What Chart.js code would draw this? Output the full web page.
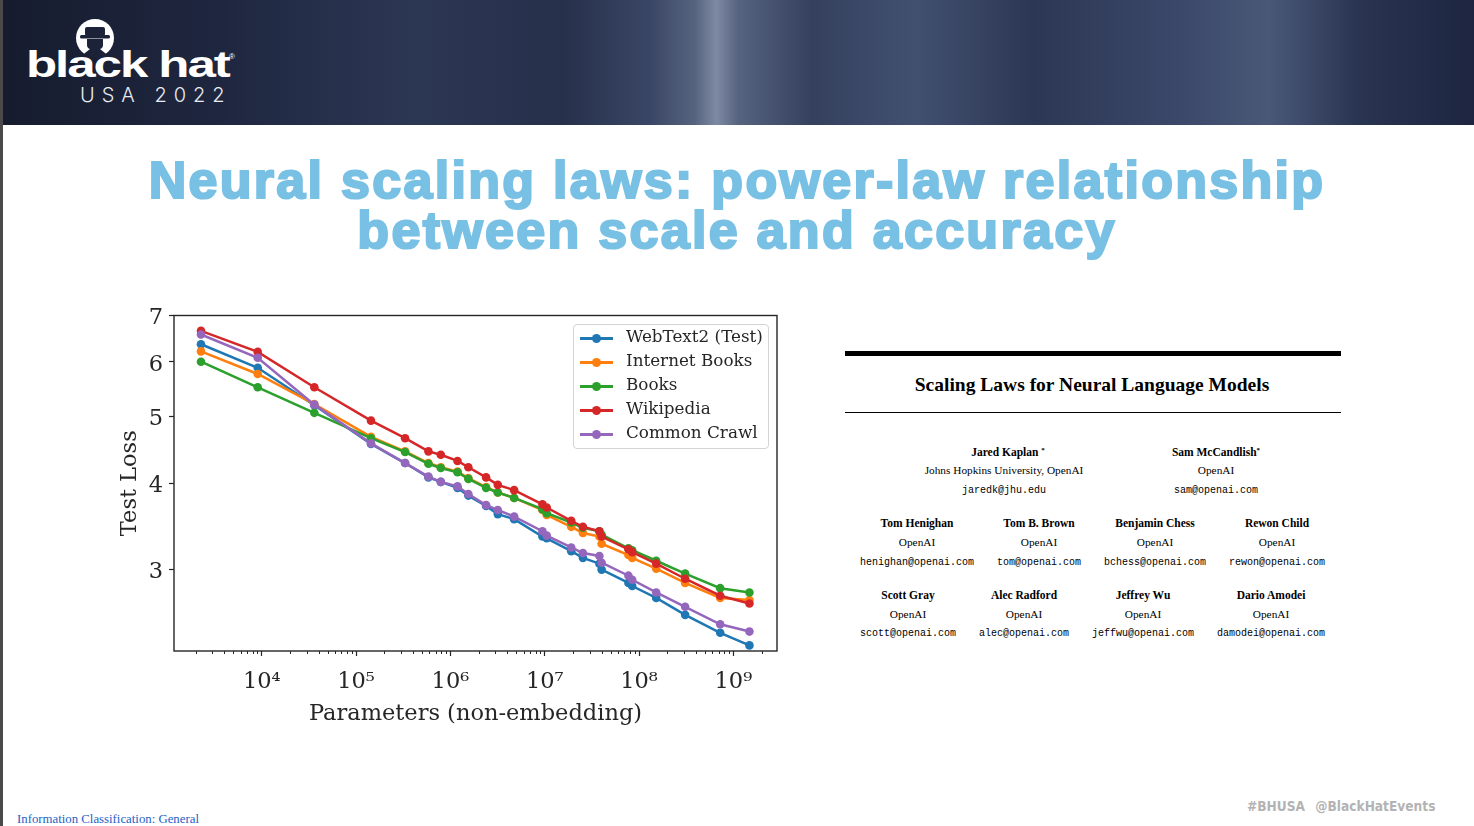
<!DOCTYPE html>
<html lang="en">
<head>
    <meta charset="UTF-8">
    <title>Neural scaling laws</title>
    <script src="https://cdn.jsdelivr.net/npm/chart.js"></script>
    <style>
        html, body { margin: 0; padding: 0; }
        body { width: 1474px; height: 826px; position: relative; overflow: hidden; background: #fff; }
        .edge { position: absolute; left: 0; top: 0; width: 3px; height: 826px; background: #4a4a4a; }
        .banner {
            position: absolute; left: 3px; top: 0; width: 1471px; height: 125px;
            background: linear-gradient(90deg, #161c2e 0%, #1f2740 15%, #2c3754 28%, #26304b 38%, #3a4665 44%,
                #56637f 47%, #7e8aa3 48.5%, #56637f 50%, #34405e 55%, #425070 62%, #2c3754 70%,
                #3b4869 80%, #4a5878 86%, #2a3552 92%, #1d2540 100%);
        }
        .logo-word {
            position: absolute; left: 26px; top: 44px; color: #fff; font-family: "Liberation Sans", Arial, sans-serif;
            font-weight: 900; font-size: 37px; letter-spacing: -1.5px; transform: scaleX(1.38); transform-origin: left top;
        }
        .logo-sub {
            position: absolute; left: 80px; top: 83px; color: #e8ebf2; font-family: Inter, "Open Sans", sans-serif;
            font-weight: 300; font-size: 20px; letter-spacing: 7px;
        }
        .reg { position: absolute; left: 229px; top: 52px; color: #fff; font: 8px "Liberation Sans", sans-serif; }
        .title {
            position: absolute; left: 0; top: 155px; width: 1474px; text-align: center; color: #78c0e4;
            font-family: "Liberation Sans", Arial, sans-serif; font-weight: bold; font-size: 52px; line-height: 50px;
            letter-spacing: 2.3px; -webkit-text-stroke: 2.2px #78c0e4;
        }
        #chartBox { position: absolute; left: 100px; top: 296px; width: 690px; height: 444px; }
        #legend {
            position: absolute; left: 573px; top: 324px; width: 196px; height: 125px; box-sizing: border-box;
            border: 1px solid #d4d4d4; border-radius: 4px; background: rgba(255,255,255,0.85); padding-top: 1px;
        }
        .lg-row { position: relative; height: 24px; }
        .lg-line { position: absolute; left: 6px; top: 11px; width: 33px; height: 2.5px; }
        .lg-dot { position: absolute; left: 12px; top: -3.5px; width: 9px; height: 9px; border-radius: 50%; }
        .lg-text { position: absolute; left: 52px; top: 0px; font-family: "DejaVu Serif", serif; font-size: 16.8px; color: #262626; white-space: nowrap; }
        .paper .t { position: absolute; transform: translate(-50%, -50%); white-space: nowrap; color: #000; }
        .nm { font: bold 11.5px "Liberation Serif", "Times New Roman", serif; }
        .af { font: 11.3px "Liberation Serif", "Times New Roman", serif; }
        .em { font: 10px "Liberation Mono", "Courier New", monospace; }
        .nm sup { font-size: 7px; vertical-align: 4px; }
        .footer-l { position: absolute; left: 17px; top: 812px; font: 12.8px "Liberation Serif", serif; color: #2462c6; }
        .footer-r { position: absolute; left: 1247px; top: 798px; font: bold 13.6px "DejaVu Sans Condensed", "DejaVu Sans", sans-serif; color: #b3b3b3; word-spacing: 6px; }
    </style>
</head>
<body>
    <div class="edge"></div>
    <div class="banner"></div>

    <!-- black hat logo -->
    <svg style="position:absolute;left:70px;top:18px" width="50" height="42" viewBox="0 0 50 42">
        <circle cx="25" cy="20" r="19" fill="#fff"/>
        <rect x="15" y="9" width="20" height="9" rx="2" fill="#1c2338"/>
        <rect x="10" y="17" width="30" height="3.5" rx="1.5" fill="#1c2338"/>
        <path d="M17 21 h16 v6 q0 3 -3 4 l10 8 h-30 l10 -8 q-3 -1 -3 -4 z" fill="#1c2338"/>
    </svg>
    <div class="logo-word">black hat</div>
    <div class="reg">&reg;</div>
    <div class="logo-sub">USA 2022</div>

    <div class="title">Neural scaling laws: power-law relationship<br>between scale and accuracy</div>

    <div id="chartBox"><canvas id="lossChart" width="690" height="444"></canvas></div>
    <div id="legend"></div>

    <!-- paper header -->
    <div class="paper">
        <div style="position:absolute;left:845px;top:351px;width:496px;height:4.5px;background:#000"></div>
        <div class="t" style="left:1092px;top:385px;font:bold 19.5px 'Liberation Serif','Times New Roman',serif">Scaling Laws for Neural Language Models</div>
        <div style="position:absolute;left:845px;top:412px;width:496px;height:1.3px;background:#000"></div>

        <div class="t nm" style="left:1008px;top:452px">Jared Kaplan <sup>*</sup></div>
        <div class="t af" style="left:1004px;top:470px">Johns Hopkins University, OpenAI</div>
        <div class="t em" style="left:1004px;top:490px">jaredk@jhu.edu</div>
        <div class="t nm" style="left:1216px;top:452px">Sam McCandlish<sup>*</sup></div>
        <div class="t af" style="left:1216px;top:470px">OpenAI</div>
        <div class="t em" style="left:1216px;top:490px">sam@openai.com</div>

        <div class="t nm" style="left:917px;top:523px">Tom Henighan</div>
        <div class="t af" style="left:917px;top:542px">OpenAI</div>
        <div class="t em" style="left:917px;top:562px">henighan@openai.com</div>
        <div class="t nm" style="left:1039px;top:523px">Tom B. Brown</div>
        <div class="t af" style="left:1039px;top:542px">OpenAI</div>
        <div class="t em" style="left:1039px;top:562px">tom@openai.com</div>
        <div class="t nm" style="left:1155px;top:523px">Benjamin Chess</div>
        <div class="t af" style="left:1155px;top:542px">OpenAI</div>
        <div class="t em" style="left:1155px;top:562px">bchess@openai.com</div>
        <div class="t nm" style="left:1277px;top:523px">Rewon Child</div>
        <div class="t af" style="left:1277px;top:542px">OpenAI</div>
        <div class="t em" style="left:1277px;top:562px">rewon@openai.com</div>

        <div class="t nm" style="left:908px;top:595px">Scott Gray</div>
        <div class="t af" style="left:908px;top:614px">OpenAI</div>
        <div class="t em" style="left:908px;top:633px">scott@openai.com</div>
        <div class="t nm" style="left:1024px;top:595px">Alec Radford</div>
        <div class="t af" style="left:1024px;top:614px">OpenAI</div>
        <div class="t em" style="left:1024px;top:633px">alec@openai.com</div>
        <div class="t nm" style="left:1143px;top:595px">Jeffrey Wu</div>
        <div class="t af" style="left:1143px;top:614px">OpenAI</div>
        <div class="t em" style="left:1143px;top:633px">jeffwu@openai.com</div>
        <div class="t nm" style="left:1271px;top:595px">Dario Amodei</div>
        <div class="t af" style="left:1271px;top:614px">OpenAI</div>
        <div class="t em" style="left:1271px;top:633px">damodei@openai.com</div>
    </div>

    <div class="footer-l">Information Classification: General</div>
    <div class="footer-r">#BHUSA @BlackHatEvents</div>

    <script>
        // model sizes (non-embedding params)
        const paramCounts = [2270, 9070, 36100, 1.44e5, 3.31e5, 5.85e5, 7.91e5, 1.19e6, 1.55e6, 2.39e6, 3.18e6, 4.74e6,
            9.46e6, 1.05e7, 1.91e7, 2.54e7, 3.80e7, 4.01e7, 7.72e7, 8.46e7, 1.52e8, 3.08e8, 7.25e8, 1.48e9];

        const webText2 = [6.36, 5.88, 5.19, 4.56, 4.28, 4.08, 4.02, 3.94, 3.84, 3.71, 3.61, 3.55,
            3.35, 3.33, 3.19, 3.12, 3.06, 3.00, 2.87, 2.84, 2.73, 2.58, 2.43, 2.33];
        const internetBooks = [6.21, 5.76, 5.21, 4.67, 4.45, 4.28, 4.22, 4.16, 4.07, 3.95, 3.88, 3.81,
            3.66, 3.60, 3.46, 3.39, 3.35, 3.27, 3.15, 3.12, 3.01, 2.87, 2.73, 2.71];
        const books = [6.00, 5.51, 5.06, 4.65, 4.44, 4.27, 4.21, 4.15, 4.06, 3.94, 3.88, 3.81,
            3.67, 3.62, 3.51, 3.45, 3.41, 3.37, 3.22, 3.20, 3.09, 2.96, 2.82, 2.78];
        const wikipedia = [6.65, 6.20, 5.51, 4.93, 4.65, 4.45, 4.40, 4.31, 4.22, 4.08, 3.98, 3.91,
            3.73, 3.69, 3.53, 3.46, 3.41, 3.35, 3.21, 3.18, 3.06, 2.91, 2.75, 2.68];
        const commonCrawl = [6.57, 6.08, 5.20, 4.57, 4.28, 4.09, 4.02, 3.96, 3.86, 3.72, 3.66, 3.58,
            3.41, 3.36, 3.23, 3.17, 3.14, 3.07, 2.94, 2.90, 2.78, 2.65, 2.50, 2.44];

        const seriesNames = ['WebText2 (Test)', 'Internet Books', 'Books', 'Wikipedia', 'Common Crawl'];
        const seriesData = [webText2, internetBooks, books, wikipedia, commonCrawl];
        const seriesColors = ['#1f77b4', '#ff7f0e', '#2ca02c', '#d62728', '#9467bd'];

        const xMajorTicks = [1e4, 1e5, 1e6, 1e7, 1e8, 1e9];
        const xMinorTicks = [];
        for (let e = 3; e <= 9; e++) {
            for (let m = 2; m <= 9; m++) {
                const v = m * Math.pow(10, e);
                if (v > 1175 && v < 2.9e9) xMinorTicks.push(v);
            }
        }
        const yTicks = [3, 4, 5, 6, 7];

        const sup = { '0': '⁰', '1': '¹', '2': '²', '3': '³', '4': '⁴', '5': '⁵', '6': '⁶', '7': '⁷', '8': '⁸', '9': '⁹' };
        const serif = 'DejaVu Serif';
        const ink = '#262626';

        // frame + minor ticks, matplotlib style
        const framePlugin = {
            id: 'frame',
            afterDraw(chart) {
                const { ctx, chartArea: a, scales } = chart;
                ctx.save();
                ctx.strokeStyle = ink;
                ctx.lineWidth = 1;
                ctx.beginPath();
                xMinorTicks.forEach(v => {
                    const px = Math.round(scales.x.getPixelForValue(v)) + 0.5;
                    ctx.moveTo(px, a.bottom);
                    ctx.lineTo(px, a.bottom + 3);
                });
                ctx.stroke();
                ctx.lineWidth = 1.4;
                ctx.strokeRect(a.left, a.top, a.right - a.left, a.bottom - a.top);
                ctx.restore();
            }
        };

        const chart = new Chart(document.getElementById('lossChart'), {
            type: 'line',
            data: {
                datasets: seriesNames.map((name, i) => ({
                    label: name,
                    data: paramCounts.map((p, j) => ({ x: p, y: seriesData[i][j] })),
                    borderColor: seriesColors[i],
                    backgroundColor: seriesColors[i],
                    pointBackgroundColor: seriesColors[i],
                    borderWidth: 2.5,
                    pointRadius: 4.3,
                    pointBorderWidth: 0,
                    tension: 0,
                    order: seriesNames.length - i
                }))
            },
            options: {
                responsive: false,
                animation: false,
                events: [],
                layout: { padding: { top: 0, right: 13, left: 0, bottom: 0 } },
                plugins: { legend: { display: false }, tooltip: { enabled: false } },
                scales: {
                    x: {
                        type: 'logarithmic',
                        min: 1175,
                        max: 2.9e9,
                        afterBuildTicks: axis => { axis.ticks = xMajorTicks.map(v => ({ value: v })); },
                        afterFit: axis => { axis.height = 89; },
                        grid: { drawOnChartArea: false, drawTicks: true, tickLength: 5, tickColor: ink, tickWidth: 1.2 },
                        border: { display: false },
                        ticks: {
                            autoSkip: false, maxRotation: 0, padding: 13, color: ink,
                            font: { family: serif, size: 22.5 },
                            callback: v => '10' + String(Math.round(Math.log10(v))).split('').map(c => sup[c]).join('')
                        },
                        title: {
                            display: true, text: 'Parameters (non-embedding)', color: ink,
                            font: { family: serif, size: 22.5 }, padding: { top: 0, bottom: 12 }
                        }
                    },
                    y: {
                        type: 'logarithmic',
                        min: 2.287,
                        max: 7,
                        afterBuildTicks: axis => { axis.ticks = yTicks.map(v => ({ value: v })); },
                        afterFit: axis => { axis.width = 74; },
                        grid: { drawOnChartArea: false, drawTicks: true, tickLength: 5, tickColor: ink, tickWidth: 1.2 },
                        border: { display: false },
                        ticks: {
                            padding: 6, color: ink, labelOffset: 3,
                            font: { family: serif, size: 22.5 },
                            callback: v => String(v)
                        },
                        title: {
                            display: true, text: 'Test Loss', color: ink,
                            font: { family: serif, size: 22.5 }, padding: { top: 17, bottom: 0 }
                        }
                    }
                }
            },
            plugins: [framePlugin]
        });

        // legend box drawn from the same datasets
        document.getElementById('legend').innerHTML = chart.data.datasets.map(ds => `
            <div class="lg-row">
                <div class="lg-line" style="background:${ds.borderColor}">
                    <div class="lg-dot" style="background:${ds.borderColor}"></div>
                </div>
                <div class="lg-text">${ds.label}</div>
            </div>
        `).join('');
    </script>
</body>
</html>
